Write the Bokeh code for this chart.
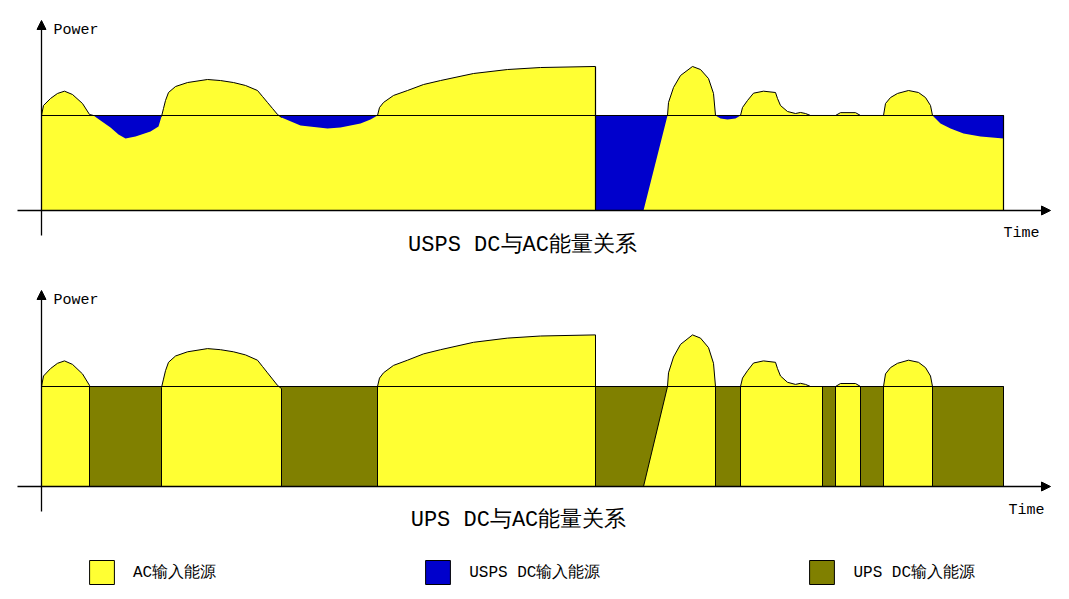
import numpy as np
from bokeh.plotting import figure
from bokeh.models import Range1d, Arrow, NormalHead, Legend, LegendItem
from bokeh.core.properties import value
from bokeh.embed import file_html
from bokeh.resources import INLINE

# ---------------- data ----------------
time = [0.0, 0.2, 0.9, 1.6, 2.3, 3.1, 4.1, 4.8, 5.2, 5.9, 6.9, 7.7, 8.4, 9.4, 10.9, 11.7,
        12.0, 12.2, 12.4, 12.7, 13.4, 14.6, 16.6, 17.9, 19.2, 20.4, 21.6, 22.1, 22.6, 23.1,
        23.6, 24.0, 25.9, 28.6, 29.9, 31.9, 32.9, 33.6, 33.8, 34.2, 35.2, 36.6, 38.2, 39.9,
        43.2, 46.6, 49.9, 55.4, 55.4, 60.2, 62.6, 62.7, 63.2, 63.9, 65.1, 65.9, 66.7, 67.2,
        67.4, 67.9, 68.6, 69.4, 69.9, 70.1, 70.6, 71.2, 72.2, 73.4, 73.6, 73.9, 74.6, 75.4,
        75.9, 76.4, 76.9, 78.1, 79.4, 79.9, 81.4, 81.9, 84.2, 84.4, 84.9, 85.6, 86.7, 87.7,
        88.4, 88.9, 89.1, 89.9, 90.9, 92.2, 93.9, 96.2]
ac_power = [100, 110.5, 117.9, 123.2, 125.6, 122.1, 112.6, 101.1, 100, 94.7, 87.4, 80.0, 75.8, 77.9, 83.2, 88.4,
            98.9, 107.4, 115.8, 124.2, 130.5, 134.7, 137.9, 136.8, 134.7, 131.6, 126.3, 120.0, 113.7, 107.4,
            101.1, 97.9, 89.5, 86.3, 87.4, 91.6, 95.8, 100, 108.4, 113.7, 121.1, 126.3, 132.6, 136.8,
            144.2, 148.4, 150.5, 151.6, 0, 0, 100, 113.7, 129.5, 142.1, 151.6, 148.4, 138.9, 123.2,
            100, 96.8, 95.8, 96.8, 100, 108.4, 115.8, 123.5, 125.6, 124.2, 117.9, 110.5, 104.2, 102.1,
            103.2, 102.1, 100, 100, 100, 103, 103, 100, 100, 112.6, 118.9, 123.2, 126.3, 124.2,
            118.9, 110.5, 100, 91.6, 86.3, 81.1, 77.9, 75.8]
dc_level = 100
# intervals where AC supplies the load (UPS panel); the rest is UPS DC
ac_start = [0.0, 12.0, 33.6, 60.2, 69.9, 79.4, 84.2]
ac_end = [4.8, 24.0, 55.4, 67.4, 78.1, 81.9, 89.1]
ac_fail_time = 55.4

title_top = "USPS DC与AC能量关系"
title_bottom = "UPS DC与AC能量关系"
legend_labels = ["AC输入能源", "USPS DC输入能源", "UPS DC输入能源"]

YELLOW = "#FFFF33"
BLUE = "#0000CC"
OLIVE = "#808000"
FONT = "Liberation Mono"

t = np.array(time, dtype=float)
ac = np.array(ac_power, dtype=float)

p = figure(width=1065, height=595, output_backend="svg", toolbar_location=None,
           x_range=Range1d(-4.1, 102.4), y_range=Range1d(-405.26, 221.05),
           x_axis_location=None, y_axis_location=None, min_border=0)
p.extra_y_ranges = {"bottom": Range1d(-109, 486)}
p.outline_line_color = None
p.grid.grid_line_color = None
p.xgrid.visible = False
p.ygrid.visible = False
p.background_fill_color = "white"

# ---------------- top panel: USPS ----------------
r_blue = p.quad(left=[t[0]], right=[t[-1]], bottom=[0], top=[dc_level], fill_color=BLUE,
                line_color="black", line_width=1)
p.varea(x=t, y1=0, y2=ac, fill_color=YELLOW)
outline = np.where(ac >= dc_level - 3, ac, np.nan)
p.line(t, outline, line_color="black", line_width=1)
p.line([t[0], t[-1]], [dc_level, dc_level], line_color="black", line_width=1.2)
p.segment(x0=[ac_fail_time, t[-1]], y0=[0, 0], x1=[ac_fail_time, t[-1]],
          y1=[ac.max(), dc_level], line_color="black", line_width=1.2)

# ---------------- bottom panel: UPS ----------------
r_olive = p.quad(left=[t[0]], right=[t[-1]], bottom=[0], top=[dc_level], fill_color=OLIVE,
                 line_color="black", line_width=1, y_range_name="bottom")
xs, ys = [], []
for s, e in zip(ac_start, ac_end):
    m = (t >= s) & (t <= e)
    xs.append([s] + list(t[m]) + [e])
    ys.append([0] + list(ac[m]) + [0])
r_yellow = p.patches(xs, ys, fill_color=YELLOW, line_color="black", line_width=1,
                     y_range_name="bottom")
p.line([t[0], t[-1]], [dc_level, dc_level], line_color="black", line_width=1.2,
       y_range_name="bottom")

# ---------------- axes (arrows) ----------------
def arrow(x0, y0, x1, y1, rn="default"):
    p.add_layout(Arrow(end=NormalHead(size=9, fill_color="black", line_color="black"),
                       x_start=x0, y_start=y0, x_end=x1, y_end=y1,
                       line_color="black", line_width=1.3, y_range_name=rn))

arrow(0, -26.3, 0, 200)
arrow(-2.4, 0, 100.9, 0)
arrow(0, -25, 0, 196, "bottom")
arrow(-2.4, 0, 100.9, 0, "bottom")

# ---------------- texts ----------------
p.text(x=[1.2, 96.2], y=[189.5, -24.2], text=["Power", "Time"], text_font=value(FONT),
       text_font_size="15px", text_align="left", text_baseline="middle", text_color="black")
p.text(x=[1.2, 96.7], y=[186, -24], text=["Power", "Time"], text_font=value(FONT),
       text_font_size="15px", text_align="left", text_baseline="middle", text_color="black",
       y_range_name="bottom")
p.text(x=[48.1], y=[-36.8], text=[title_top], text_font=value(FONT), text_font_size="22px",
       text_align="center", text_baseline="middle", text_color="black")
p.text(x=[47.7], y=[-34], text=[title_bottom], text_font=value(FONT), text_font_size="22px",
       text_align="center", text_baseline="middle", text_color="black", y_range_name="bottom")

# ---------------- legend ----------------
items = [LegendItem(label=lab, renderers=[r]) for lab, r in
         zip(legend_labels, [r_yellow, r_blue, r_olive])]
legend = Legend(items=items, orientation="horizontal", location=(86, 8),
                glyph_width=31, glyph_height=30, label_standoff=16, spacing=206,
                padding=0, margin=0, border_line_color=None, background_fill_alpha=0,
                label_text_font=FONT, label_text_font_size="16px", label_text_color="black")
p.add_layout(legend, "center")

open("out.html", "w").write(file_html(p, INLINE))
